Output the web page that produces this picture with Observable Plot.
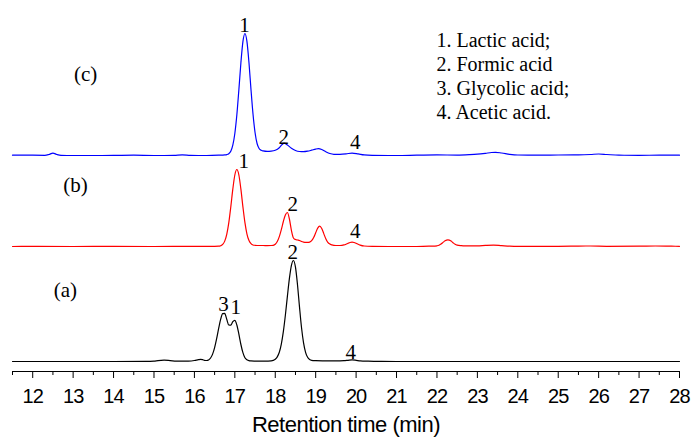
<!DOCTYPE html>
<html>
<head>
<meta charset="utf-8">
<script src="https://cdn.jsdelivr.net/npm/d3@7"></script>
<script src="https://cdn.jsdelivr.net/npm/@observablehq/plot@0.6"></script>
<style>
  html, body { margin: 0; padding: 0; background: #fff; }
  #chart svg { display: block; }
</style>
</head>
<body>
<div id="chart"></div>
<script>
// HPLC chromatograms of three samples: [retention time (min), detector signal]
const samples = ["(a)", "(b)", "(c)"];
// vertical offset of each chromatogram so the traces stack
const offsets = [10, 125, 216];

const traceA = [
  [11.5,0],[12.0,0],[13.0,0],[14.0,0],[14.8,0.1],[15.0,0.4],[15.1,0.9],[15.25,1.3],[15.4,0.9],
  [15.55,0.4],[15.7,0.3],[15.85,0.4],[16.0,1.0],[16.1,1.8],[16.15,2.1],[16.2,1.8],[16.25,1.2],
  [16.3,1.0],[16.35,1.55],[16.4,3.5],[16.45,7.4],[16.5,13.9],[16.55,22.8],[16.6,33.1],[16.65,42.3],
  [16.7,47.9],[16.75,48.1],[16.8,42.2],[16.85,36.5],[16.9,36.3],[16.95,39.8],[17.0,41.2],[17.05,36.5],
  [17.1,27.3],[17.15,17.0],[17.2,8.8],[17.25,3.7],[17.3,1.8],[17.35,0.9],[17.4,0.6],[17.5,0.4],
  [17.6,0.3],[17.7,0.3],[17.8,0.4],[17.9,0.6],[17.95,1.1],[18.0,2.2],[18.05,4.6],[18.1,9.2],
  [18.15,17.4],[18.2,29.8],[18.25,46.2],[18.3,65.1],[18.35,83.1],[18.4,96.2],[18.45,101],[18.5,94.3],
  [18.55,76.8],[18.6,54.4],[18.65,33.7],[18.7,18.7],[18.75,9.2],[18.8,4.2],[18.85,2.0],[18.9,1.2],
  [19.0,0.9],[19.2,0.7],[19.5,0.6],[19.7,0.8],[19.8,1.2],[19.9,1.6],[20.0,1.2],[20.1,0.6],[20.3,0.3],
  [20.5,0.2],[21.0,0],[22.0,0],[23.0,0],[24.0,0],[25.0,0],[26.0,0],[27.0,0],[28.0,0]
];

const traceB = [
  [11.5,0],[12.0,0.1],[13.0,0],[14.0,0.1],[15.0,0],[16.0,0.1],[16.5,0.2],[16.6,0.3],[16.65,0.8],
  [16.7,2.1],[16.75,5.4],[16.8,12.1],[16.85,23.6],[16.9,39.6],[16.95,57.3],[17.0,71.5],[17.05,77],
  [17.1,71.5],[17.15,57.3],[17.2,39.6],[17.25,23.8],[17.3,12.4],[17.35,5.9],[17.4,2.8],[17.45,1.5],
  [17.5,1.2],[17.6,1.0],[17.7,1.0],[17.8,0.9],[17.9,1.0],[17.95,1.2],[18.0,2.3],[18.05,5],[18.1,9.9],
  [18.15,16.9],[18.2,25],[18.25,31.5],[18.3,34],[18.35,27.5],[18.4,16],[18.45,8.5],[18.5,7],
  [18.55,6.5],[18.6,6],[18.65,5],[18.7,4.4],[18.75,4.1],[18.8,4.1],[18.85,4.4],[18.9,5.8],[18.95,9.0],
  [19.0,13.7],[19.05,18.4],[19.1,20.3],[19.15,18.0],[19.2,12.9],[19.25,7.8],[19.3,4.2],[19.35,2.4],
  [19.4,1.6],[19.5,1.0],[19.6,1.0],[19.7,1.6],[19.75,2.3],[19.8,3.2],[19.85,4.0],[19.9,4.3],[19.95,4.0],
  [20.0,3.2],[20.05,2.2],[20.1,1.4],[20.2,0.5],[20.4,0.2],[21.0,0],[21.5,0],[21.8,0.3],[21.9,0.3],
  [22.0,0.7],[22.05,1.25],[22.1,2.5],[22.15,4.1],[22.2,5.7],[22.27,6.7],[22.35,5.4],[22.4,3.7],
  [22.45,2.2],[22.5,1.4],[22.6,0.8],[22.7,0.6],[23.0,0.6],[23.2,1.1],[23.4,1.4],[23.6,0.9],[23.8,0.4],
  [24.0,0.2],[25.0,0.2],[25.5,0.4],[25.8,0.5],[26.2,0.2],[27.0,0.3],[27.4,0.5],[27.8,0.3],[28.0,0.2]
];

const traceC = [
  [11.5,0.3],[12.0,0.3],[12.3,0.2],[12.4,1.0],[12.5,2.4],[12.6,1.0],[12.7,0.2],[13.0,0],[13.5,0],
  [14.0,0.1],[14.5,0.3],[15.0,0],[15.5,0.2],[15.7,0.6],[15.9,0.2],[16.3,0],[16.6,0.3],[16.75,0.6],
  [16.8,0.9],[16.85,1.8],[16.9,4.2],[16.95,10.3],[17.0,22],[17.05,40.7],[17.1,65.8],[17.15,92.7],
  [17.2,113.9],[17.25,122],[17.3,113.9],[17.35,92.7],[17.4,65.8],[17.45,41.2],[17.5,23],[17.55,12],
  [17.6,7],[17.65,5.2],[17.7,4.6],[17.8,4.1],[17.9,4.3],[18.0,5.2],[18.1,7.8],[18.17,11],[18.22,12.3],
  [18.3,10.5],[18.4,7.2],[18.5,5],[18.6,4],[18.7,3.8],[18.8,4.3],[18.9,5.3],[19.0,6.4],[19.07,6.8],
  [19.15,6],[19.25,3.8],[19.35,2],[19.45,1.2],[19.6,1.2],[19.75,1.6],[19.9,2.4],[20.05,1.6],[20.2,0.6],
  [20.4,0.2],[21.0,0],[21.5,0.3],[22.0,0.6],[22.5,0.4],[22.8,0.8],[23.0,1.3],[23.2,2.2],[23.35,3],
  [23.45,3.2],[23.6,2.5],[23.8,1.2],[24.0,0.5],[24.5,0.3],[25.0,0.5],[25.5,0.6],[25.8,1],[26.0,1.5],
  [26.2,1],[26.5,0.3],[27.0,0.2],[27.5,0.3],[28.0,0.3]
];

// peak identification labels
const peakSample = ["(c)", "(c)", "(c)", "(b)", "(b)", "(b)", "(a)", "(a)", "(a)", "(a)"];
const peakText   = ["1", "2", "4", "1", "2", "4", "3", "1", "2", "4"];
const peakTime   = [17.24, 18.21, 19.98, 17.22, 18.43, 19.98, 16.72, 17.02, 18.43, 19.87];
const peakLevel  = [124, 12, 7, 79, 36, 9, 51, 48, 103, 3];

// sample labels
const panelTime  = [12.81, 13.06, 13.31];
const panelLevel = [65, 55, 75];

const legendLines = ["1. Lactic acid;", "2. Formic acid", "3. Glycolic acid;", "4. Acetic acid."];
const majorTicks = d3.range(12, 29, 1);
const minorTicks = d3.range(11.5, 28, 1);
const xTitle = "Retention time (min)";

const traces = [traceA, traceB, traceC];
const offsetOf = Object.fromEntries(samples.map((s, i) => [s, offsets[i]]));
const rows = traces.flatMap((tr, i) =>
  tr.map(([t, v]) => ({sample: samples[i], t, y: v + offsets[i]})));
const peaks = peakText.map((text, i) =>
  ({text, t: peakTime[i], y: peakLevel[i] + offsetOf[peakSample[i]]}));
const panels = samples.map((s, i) => ({text: s, t: panelTime[i], y: panelLevel[i] + offsets[i]}));

const serif = "'Liberation Serif', 'Times New Roman', serif";
const sans = "'Liberation Sans', Arial, sans-serif";

const chart = Plot.plot({
  width: 693,
  height: 438,
  marginLeft: 12,
  marginRight: 14,
  marginTop: 0,
  marginBottom: 67,
  x: {domain: [11.5, 28], label: null},
  y: {domain: [0, 371], axis: null, label: null},
  color: {domain: samples, range: ["#000000", "#ff0000", "#0000ff"]},
  style: {background: "#fff", color: "#000"},
  marks: [
    Plot.ruleY([0], {stroke: "#000", strokeWidth: 1.2}),
    Plot.axisX(minorTicks, {tickSize: 4, tickFormat: () => "", label: null}),
    Plot.axisX(majorTicks, {tickSize: 7, tickPadding: 10, fontSize: 20, fontFamily: sans, label: null}),
    Plot.text([xTitle], {frameAnchor: "bottom", dy: 60, lineAnchor: "bottom", fontSize: 22, fontFamily: sans}),
    Plot.lineY(rows, {x: "t", y: "y", z: "sample", stroke: "sample", strokeWidth: 1.2, curve: "monotone-x"}),
    Plot.text(peaks, {x: "t", y: "y", text: "text", lineAnchor: "bottom", fontSize: 21, fontFamily: serif}),
    Plot.text(panels, {x: "t", y: "y", text: "text", lineAnchor: "bottom", fontSize: 21, fontFamily: serif}),
    Plot.text([legendLines.join("\n")], {
      frameAnchor: "top-left", dx: 424, dy: 29, textAnchor: "start", lineAnchor: "top",
      lineHeight: 1.2, fontSize: 20, fontFamily: serif
    })
  ]
});

// tighten the sans-serif axis text a little
d3.select(chart).selectAll("text").each(function () {
  const g = this.closest("g");
  const aria = g ? g.getAttribute("aria-label") || "" : "";
  if (aria.includes("tick label")) this.style.letterSpacing = "-0.9px";
  else if (this.textContent === xTitle) this.style.letterSpacing = "-0.5px";
});

document.getElementById("chart").appendChild(chart);
</script>
</body>
</html>
